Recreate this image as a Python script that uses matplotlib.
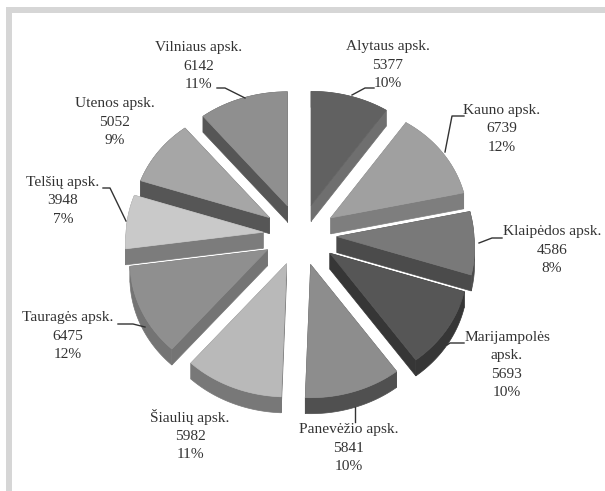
import numpy as np
import matplotlib
matplotlib.use("Agg")
import matplotlib.pyplot as plt
from matplotlib.patches import Polygon, Rectangle

# data
names = ["Alytaus apsk.", "Kauno apsk.", "Klaipėdos apsk.", "Marijampolės\napsk.", "Panevėžio apsk.",
         "Šiaulių apsk.", "Tauragės apsk.", "Telšių apsk.", "Utenos apsk.", "Vilniaus apsk."]
values = [5377, 6739, 4586, 5693, 5841, 5982, 6475, 3948, 5052, 6142]
percents = [10, 12, 8, 10, 10, 11, 12, 7, 9, 11]

# colours
top_colors = ["#616161", "#a0a0a0", "#797979", "#565656", "#8d8d8d",
              "#b9b9b9", "#8f8f8f", "#c9c9c9", "#a6a6a6", "#8f8f8f"]
side_colors = ["#6f6f6f", "#7e7e7e", "#4b4b4b", "#363636", "#505050",
               "#787878", "#747474", "#7c7c7c", "#565656", "#565656"]

# label centres and leader lines, in pixels
label_pos = [(388, 65), (502, 129), (552, 250), (507, 365), (349, 448),
             (190, 435), (68, 336), (63, 201), (115, 122), (199, 66)]
leaders = [[(374, 88), (365, 88), (352, 95)],
           [(464, 116), (452, 116), (445, 152)],
           [(502, 238), (492, 238), (479, 243)],
           [(464, 343), (450, 343), (447, 345)],
           [(355, 422), (355, 407)],
           [],
           [(118, 324), (133, 324), (145, 327)],
           [(103, 188), (110, 188), (126, 221)],
           [],
           [(217, 88), (225, 88), (245, 98)]]

cx, cy = 300, 235
ex, ey = 37, 31
depth = 16


def rim(ax0, ay0, t):
    # front of the pie looks bigger than the back
    c = np.cos(t)
    rx = 137 - np.where(c < 0, 13, 6) * c
    ry = 123.5 - 9.5 * c
    return ax0 + rx * np.sin(t), ay0 - ry * c


fig = plt.figure(figsize=(6.05, 4.91), dpi=100)
ax = fig.add_axes([0, 0, 1, 1])
ax.set_xlim(0, 605)
ax.set_ylim(491, 0)
ax.axis("off")

# grey frame
ax.add_patch(Rectangle((6, 7), 599, 5.5, color="#d6d6d6", lw=0))
ax.add_patch(Rectangle((6, 7), 5.5, 484, color="#d6d6d6", lw=0))

edges = np.radians(np.cumsum([0] + values) / sum(values) * 360)
slices = []
for i in range(len(values)):
    t0, t1 = edges[i], edges[i + 1]
    mid = (t0 + t1) / 2
    ax0 = cx + ex * np.sin(mid)
    ay0 = cy - ey * np.cos(mid)
    slices.append((ay0, i, t0, t1, ax0))

# back slices first so the front ones cover them
for ay0, i, t0, t1, ax0 in sorted(slices):
    t = np.linspace(t0, t1, 60)
    xs, ys = rim(ax0, ay0, t)
    top = np.column_stack([np.r_[ax0, xs], np.r_[ay0, ys]])
    # sides: two cut faces and the outer rim
    ax.add_patch(Polygon([(ax0, ay0), (xs[0], ys[0]), (xs[0], ys[0] + depth), (ax0, ay0 + depth)],
                         fc=side_colors[i], ec=side_colors[i], lw=0.5))
    ax.add_patch(Polygon([(ax0, ay0), (xs[-1], ys[-1]), (xs[-1], ys[-1] + depth), (ax0, ay0 + depth)],
                         fc=side_colors[i], ec=side_colors[i], lw=0.5))
    outer = np.column_stack([np.r_[xs, xs[::-1]], np.r_[ys, ys[::-1] + depth]])
    ax.add_patch(Polygon(outer, fc=side_colors[i], ec=side_colors[i], lw=0.5))
    ax.add_patch(Polygon(top, fc=top_colors[i], ec=top_colors[i], lw=0.5))

for i in range(len(values)):
    txt = "%s\n%d\n%d%%" % (names[i], values[i], percents[i])
    ax.text(label_pos[i][0], label_pos[i][1], txt, ha="center", va="center", ma="center",
            family="Liberation Serif", fontsize=11.1, color="#333333", linespacing=1.52)
    if leaders[i]:
        lx, ly = zip(*leaders[i])
        ax.plot(lx, ly, color="#333333", lw=1.0)

fig.savefig("out.png", dpi=100)
